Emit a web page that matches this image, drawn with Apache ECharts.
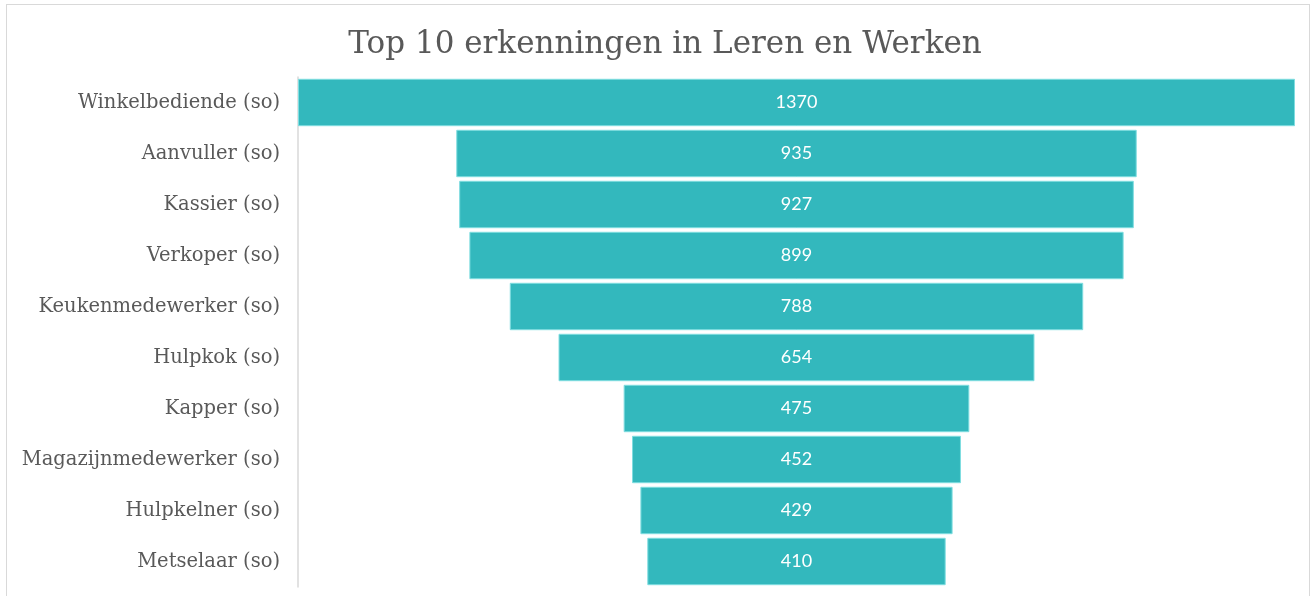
<!DOCTYPE html>
<html><head><meta charset="utf-8">
<script src="https://cdn.jsdelivr.net/npm/echarts@6/dist/echarts.min.js"></script>
<style>html,body{margin:0;padding:0;background:#fff}#c{width:1313px;height:596px}
#frame{position:absolute;left:6px;top:4px;width:1304px;height:600px;border:1px solid #d9d9d9;box-sizing:border-box;pointer-events:none}</style>
</head><body><div id="c"></div><div id="frame"></div>
<script>
const categories = ["Winkelbediende (so)","Aanvuller (so)","Kassier (so)","Verkoper (so)","Keukenmedewerker (so)","Hulpkok (so)","Kapper (so)","Magazijnmedewerker (so)","Hulpkelner (so)","Metselaar (so)"];
const values = [1370,935,927,899,788,654,475,452,429,410];
const maxVal = 1370;
const offsets = values.map(v => (maxVal - v) / 2);
const serif = '"DejaVu Serif",serif';
const chart = echarts.init(document.getElementById('c'));
chart.setOption({
  animation:false,
  title:{text:'Top 10 erkenningen in Leren en Werken',left:660,textAlign:'center',top:24,
    textStyle:{fontFamily:serif,fontSize:31,fontWeight:'normal',color:'#595959'}},
  grid:{left:298,right:18,top:77,bottom:9,containLabel:false},
  xAxis:{type:'value',min:0,max:maxVal,show:false},
  yAxis:{type:'category',inverse:true,data:categories,
    axisLine:{lineStyle:{color:'#d9d9d9',width:1.5}},axisTick:{show:false},
    axisLabel:{margin:18,fontFamily:serif,fontSize:19.5,color:'#595959'}},
  series:[
    {type:'bar',stack:'f',data:offsets,itemStyle:{color:'transparent'},silent:true,barCategoryGap:'7%'},
    {type:'bar',stack:'f',data:values,barCategoryGap:'7%',
     itemStyle:{color:'#33b8bd',borderColor:'#7fdde0',borderWidth:1},
     label:{show:true,position:'inside',color:'#ffffff',fontFamily:'Lato',fontSize:18}}
  ]
});
</script></body></html>
